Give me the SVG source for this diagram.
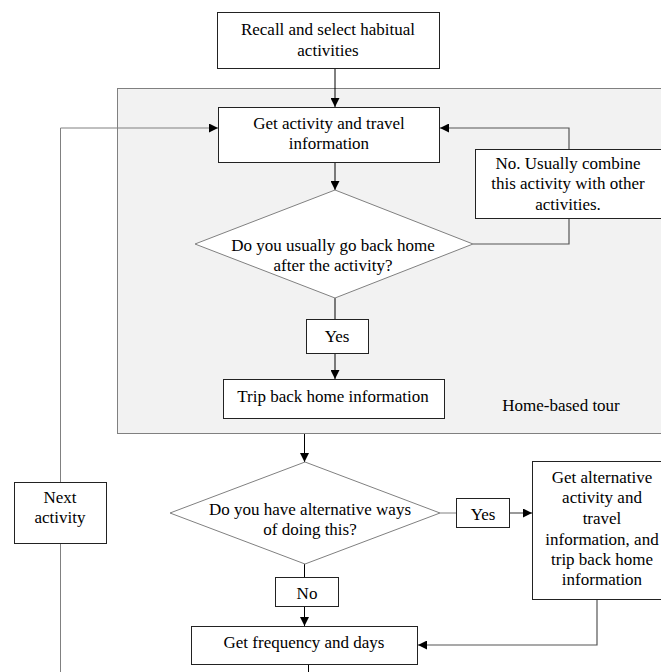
<svg xmlns="http://www.w3.org/2000/svg" width="661" height="672" viewBox="0 0 661 672">
<defs>
<marker id="ah" viewBox="0 0 10 10" refX="10" refY="5" markerWidth="9" markerHeight="9" markerUnits="userSpaceOnUse" orient="auto">
<path d="M0,0 L10,5 L0,10 z" fill="#000"/>
</marker>
<style>
text{font-family:"Liberation Serif","Times New Roman",serif;font-size:17px;fill:#000;text-anchor:middle}
.box{fill:#fff;stroke:#222;stroke-width:1}
.dia{fill:#fff;stroke:#808080;stroke-width:1}
.region{fill:#f2f2f2;stroke:#808080;stroke-width:1}
.c{fill:none;stroke:#000;stroke-width:1}
.cg{fill:none;stroke:#808080;stroke-width:1}
.cd{fill:none;stroke:#555;stroke-width:1.2}
</style>
</defs>
<g id="home-based-tour">
<rect class="region" x="117.5" y="88.5" width="550" height="345"/>
<text x="561" y="411">Home-based tour</text>
</g>
<g id="connectors">
<path class="c" d="M335,68 V107" marker-end="url(#ah)"/>
<path class="c" d="M335,162 V190" marker-end="url(#ah)"/>
<path class="c" d="M335,298 V319"/>
<path class="c" d="M335,353 V379" marker-end="url(#ah)"/>
<path class="cd" d="M473,244 H569 V218"/>
<path class="cd" d="M569,149 V128 H440" marker-end="url(#ah)"/>
<path class="c" d="M304.5,434 V462" marker-end="url(#ah)"/>
<path class="cg" d="M440,513 H456"/>
<path class="cd" d="M509,513 H532" marker-end="url(#ah)"/>
<path class="c" d="M304.5,564 V577"/>
<path class="c" d="M304.5,606 V626" marker-end="url(#ah)"/>
<path class="cd" d="M597,599 V645 H418" marker-end="url(#ah)"/>
<path class="c" d="M308.5,664 V672"/>
<path class="cg" d="M60.5,672 V543"/>
<path class="cg" d="M60.5,482 V128 H218" marker-end="url(#ah)"/>
</g>
<g id="recall">
<rect class="box" x="217.5" y="12.5" width="222" height="56"/>
<text x="328" y="35">Recall and select habitual</text>
<text x="328" y="56">activities</text>
</g>
<g id="get-activity">
<rect class="box" x="218.5" y="107.5" width="221" height="55"/>
<text x="329" y="129">Get activity and travel</text>
<text x="329" y="149">information</text>
</g>
<g id="combine">
<rect class="box" x="475.5" y="149.5" width="186" height="69"/>
<text x="568" y="169">No. Usually combine</text>
<text x="568" y="189">this activity with other</text>
<text x="568" y="210">activities.</text>
</g>
<g id="go-back-home">
<polygon class="dia" points="335,190 473,244 335,298 195,244"/>
<text x="333" y="251">Do you usually go back home</text>
<text x="333" y="271">after the activity?</text>
</g>
<g id="yes1">
<rect class="box" x="306.5" y="319.5" width="62" height="34"/>
<text x="337" y="342">Yes</text>
</g>
<g id="trip-back">
<rect class="box" x="223.5" y="379.5" width="221" height="39"/>
<text x="333" y="402">Trip back home information</text>
</g>
<g id="next-activity">
<rect class="box" x="14.5" y="482.5" width="92" height="61"/>
<text x="60" y="503">Next</text>
<text x="60" y="523">activity</text>
</g>
<g id="alternative-ways">
<polygon class="dia" points="305,462 440,513 305,564 170,513"/>
<text x="310" y="515">Do you have alternative ways</text>
<text x="310" y="535">of doing this?</text>
</g>
<g id="yes2">
<rect class="box" x="456.5" y="498.5" width="53" height="29"/>
<text x="483" y="520">Yes</text>
</g>
<g id="alt-activity">
<rect class="box" x="532.5" y="461.5" width="129" height="138"/>
<text x="602" y="483">Get alternative</text>
<text x="602" y="503">activity and</text>
<text x="602" y="524">travel</text>
<text x="602" y="545">information, and</text>
<text x="602" y="565">trip back home</text>
<text x="602" y="585">information</text>
</g>
<g id="no">
<rect class="box" x="275.5" y="577.5" width="63" height="29"/>
<text x="307" y="599">No</text>
</g>
<g id="frequency">
<rect class="box" x="191.5" y="626.5" width="226" height="38"/>
<text x="304" y="648">Get frequency and days</text>
</g>
</svg>
